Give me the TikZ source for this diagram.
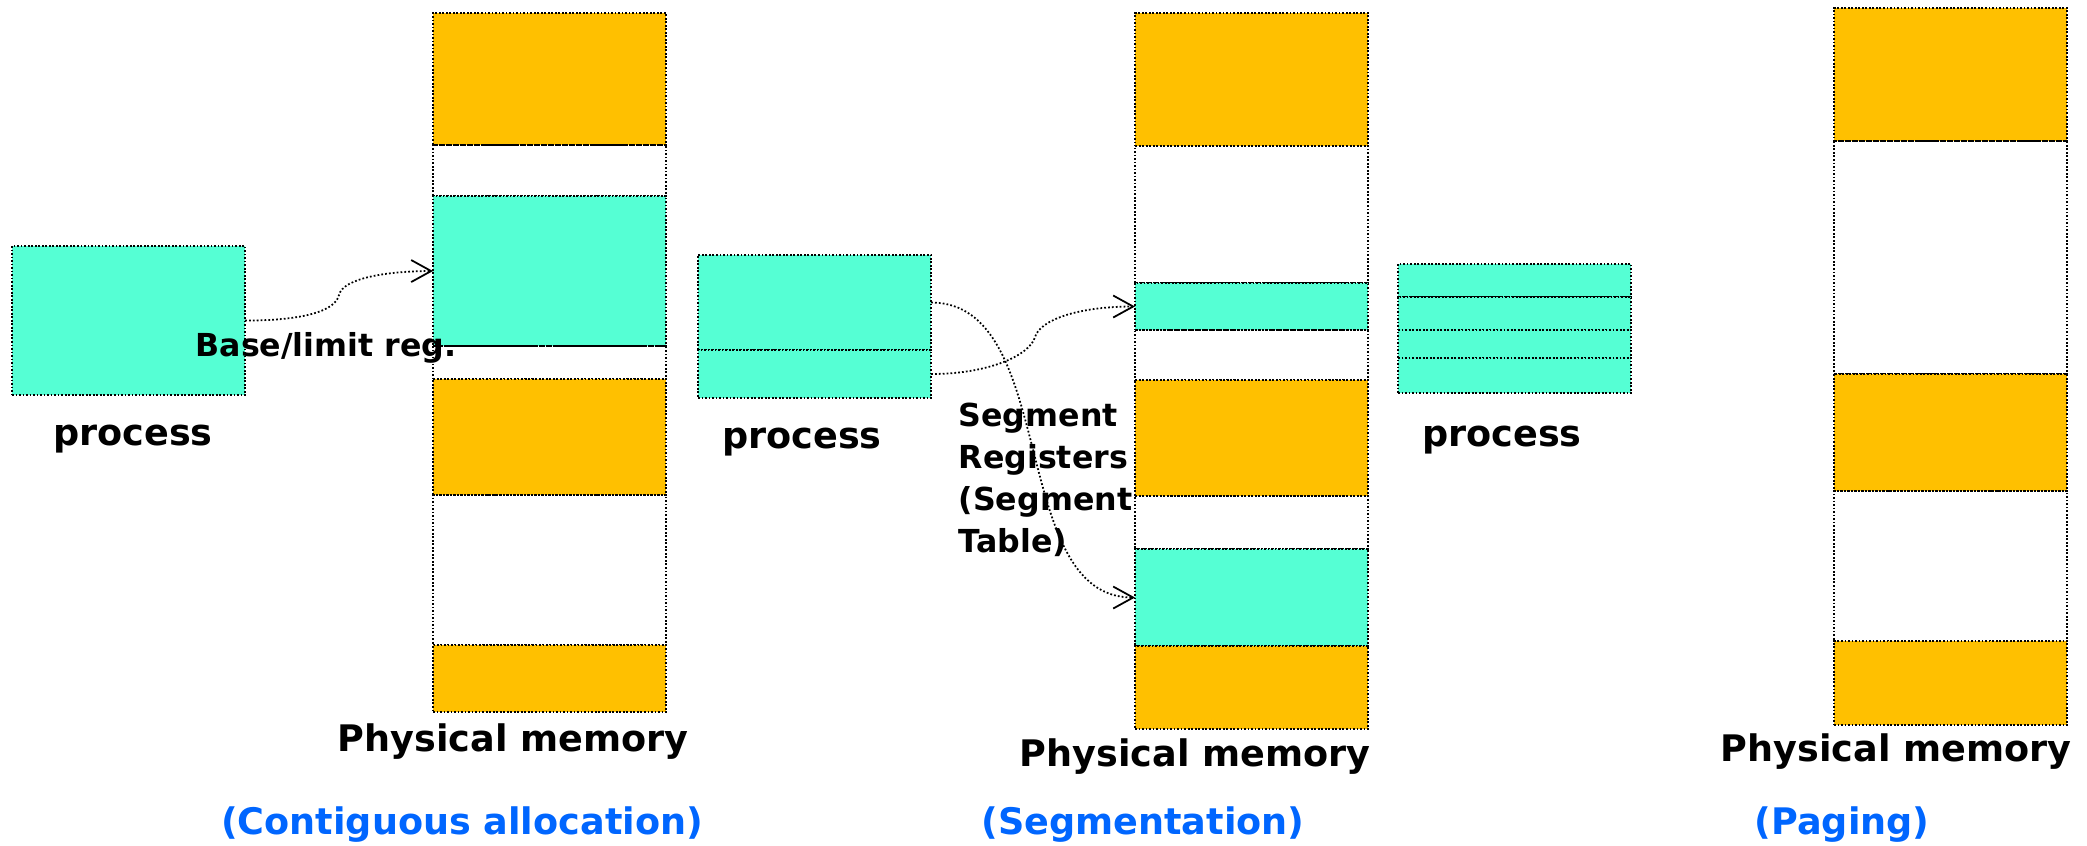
\documentclass[tikz,border=0pt]{standalone}
\usepackage{fontspec}
\setmainfont{DejaVu Sans}
\usepackage{tikz}
\usetikzlibrary{arrows.meta}
\definecolor{used}{HTML}{FFC000}
\definecolor{proc}{HTML}{55FFD4}
\definecolor{capblue}{HTML}{0066FF}
\tikzstyle{memblk} = [
    rectangle,
    draw=black,
    line width=0.5pt,
    dash pattern=on 0.5pt off 0.5pt,
    minimum width=2.33cm,
    inner sep=0pt,
    outer sep=0pt,
    anchor=north west
]
\tikzstyle{tran}  = [
    draw,
    line width=0.5pt,
    dash pattern=on 0.5pt off 0.6pt,
    -{Straight Barb[length=2mm,width=2.2mm]}
]
\tikzstyle{lbl}   = [inner sep=0pt, anchor=base, font=\fontsize{10.4}{12.5}\selectfont\bfseries]
\tikzstyle{reg}   = [inner sep=0pt, font=\fontsize{9}{12}\selectfont\bfseries]

\begin{document}
\begin{tikzpicture}[x=0.01cm, y=-0.01cm]

\useasboundingbox (0,0) rectangle (2087,845);

% contiguous allocation
\node[memblk, fill=proc, minimum height=1.49cm] (proc1) at (12,246)  {};

\node[memblk, fill=used, minimum height=1.32cm] (m1a)   at (433,13)  {};
\node[memblk,            minimum height=0.51cm] (m1b)   at (433,145) {};
\node[memblk, fill=proc, minimum height=1.50cm] (m1c)   at (433,196) {};
\node[memblk,            minimum height=0.33cm] (m1d)   at (433,346) {};
\node[memblk, fill=used, minimum height=1.16cm] (m1e)   at (433,379) {};
\node[memblk,            minimum height=1.50cm] (m1f)   at (433,495) {};
\node[memblk, fill=used, minimum height=0.67cm] (m1g)   at (433,645) {};

\coordinate (k1) at (339,295);

% segmentation
\node[memblk, fill=proc, minimum height=0.95cm] (p2a)   at (698,255) {};
\node[memblk, fill=proc, minimum height=0.48cm] (p2b)   at (698,350) {};

\node[memblk, fill=used, minimum height=1.33cm] (m2a)   at (1135,13)  {};
\node[memblk,            minimum height=1.37cm] (m2b)   at (1135,146) {};
\node[memblk, fill=proc, minimum height=0.47cm] (m2c)   at (1135,283) {};
\node[memblk,            minimum height=0.50cm] (m2d)   at (1135,330) {};
\node[memblk, fill=used, minimum height=1.16cm] (m2e)   at (1135,380) {};
\node[memblk,            minimum height=0.53cm] (m2f)   at (1135,496) {};
\node[memblk, fill=proc, minimum height=0.97cm] (m2g)   at (1135,549) {};
\node[memblk, fill=used, minimum height=0.83cm] (m2h)   at (1135,646) {};

\coordinate (k2) at (1035,337);

% paging
\node[memblk, fill=proc, minimum height=0.33cm] (p3a)   at (1398,264) {};
\node[memblk, fill=proc, minimum height=0.33cm] (p3b)   at (1398,297) {};
\node[memblk, fill=proc, minimum height=0.28cm] (p3c)   at (1398,330) {};
\node[memblk, fill=proc, minimum height=0.35cm] (p3d)   at (1398,358) {};

\node[memblk, fill=used, minimum height=1.33cm] (m3a)   at (1834,8)   {};
\node[memblk,            minimum height=2.33cm] (m3b)   at (1834,141) {};
\node[memblk, fill=used, minimum height=1.17cm] (m3c)   at (1834,374) {};
\node[memblk,            minimum height=1.50cm] (m3d)   at (1834,491) {};
\node[memblk, fill=used, minimum height=0.84cm] (m3e)   at (1834,641) {};

\draw[tran] (proc1.east) .. controls +(55,0) and +(-4,17) .. (k1)
                         .. controls +(4,-17) and +(-45,0) .. (m1c.west);
\draw[tran] (p2b.east)   .. controls +(58,0) and +(-5,18) .. (k2)
                         .. controls +(5,-17) and +(-57,0) .. (m2c.west);
\draw[tran] (p2a.east)   .. controls +(128,0) and +(-127,0) .. (m2g.west);

\node[reg] (blr) at (326,348) {Base/limit reg.};
\node[reg, anchor=north west, align=left] (segreg) at (958,402)
{Segment\\Registers\\(Segment\\Table)};

\node[lbl] (proc1l) at (133,445)  {process};
\node[lbl] (proc2l) at (802,448)  {process};
\node[lbl] (proc3l) at (1502,446) {process};

\node[lbl] (phys1) at (513,751)  {Physical memory};
\node[lbl] (phys2) at (1195,766) {Physical memory};
\node[lbl] (phys3) at (1896,761) {Physical memory};

\node[lbl, text=capblue] (cap1) at (462,834)  {(Contiguous allocation)};
\node[lbl, text=capblue] (cap2) at (1143,834) {(Segmentation)};
\node[lbl, text=capblue] (cap3) at (1842,834) {(Paging)};

\end{tikzpicture}
\end{document}
